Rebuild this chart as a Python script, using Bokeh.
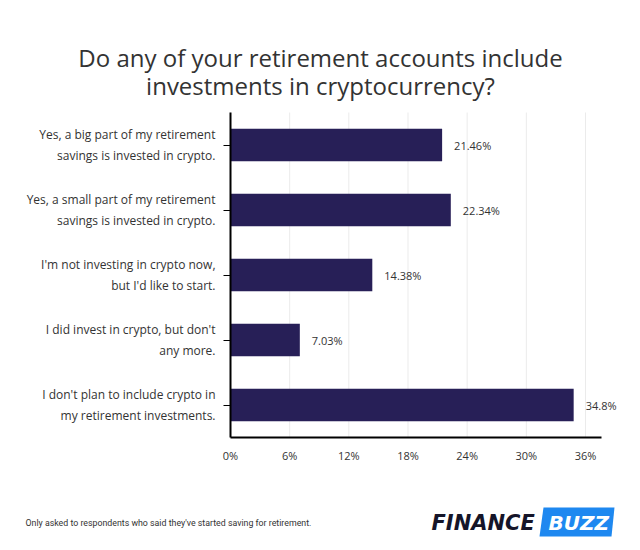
from bokeh.plotting import figure
from bokeh.models import Range1d, FixedTicker, CustomJSTickFormatter, ColumnDataSource, LabelSet, Label, PolyAnnotation
from bokeh.core.properties import value
from bokeh.embed import file_html
from bokeh.resources import INLINE

categories = [
    "Yes, a big part of my retirement\nsavings is invested in crypto.",
    "Yes, a small part of my retirement\nsavings is invested in crypto.",
    "I'm not investing in crypto now,\nbut I'd like to start.",
    "I did invest in crypto, but don't\nany more.",
    "I don't plan to include crypto in\nmy retirement investments.",
]
values = [21.46, 22.34, 14.38, 7.03, 34.8]
value_labels = ["21.46%", "22.34%", "14.38%", "7.03%", "34.8%"]
x_ticks = [0, 6, 12, 18, 24, 30, 36]
title_lines = ["Do any of your retirement accounts include", "investments in cryptocurrency?"]
footnote = "Only asked to respondents who said they've started saving for retirement."

W, H = 632, 542
TEXT = "#333333"
n = len(categories)
ypos = [n - i - 0.5 for i in range(n)]

# layout geometry (pixels): value 0 at x=230, category band 65px, bars' bottom edge at y=437
PX_PER_UNIT = 355 / 36.0
X0, Y0, BAND = 230, 437, 65.0

p = figure(width=W, height=H, output_backend="svg", toolbar_location=None,
           x_range=Range1d(-X0 / PX_PER_UNIT, (W - X0) / PX_PER_UNIT),
           y_range=Range1d(-(H - Y0) / BAND, Y0 / BAND),
           min_border=0)
p.outline_line_color = None
p.grid.visible = False

# light vertical grid lines within the bar area
p.segment(x0=x_ticks, x1=x_ticks, y0=[0] * len(x_ticks), y1=[n] * len(x_ticks),
          line_color="#ebebeb", line_width=1)

src = ColumnDataSource(dict(y=ypos, val=values, lab=value_labels))
p.hbar(y="y", right="val", left=0, height=0.5, source=src, color="#271f57", line_color=None)
p.add_layout(LabelSet(x="val", y="y", text="lab", source=src, x_offset=12,
                      text_font=value("Open Sans"), text_font_size="11px", text_color=TEXT,
                      text_baseline="middle"))

xa = p.xaxis[0]
xa.fixed_location = 0
xa.bounds = (0, 37.6)
xa.ticker = FixedTicker(ticks=x_ticks)
xa.formatter = CustomJSTickFormatter(code="return tick + '%';")
xa.axis_line_width = 2
xa.axis_line_color = "black"
xa.major_tick_line_color = None
xa.minor_tick_line_color = None
xa.major_label_text_font = "Open Sans"
xa.major_label_text_font_size = "11px"
xa.major_label_text_color = TEXT
xa.major_label_standoff = 4

ya = p.yaxis[0]
ya.fixed_location = 0
ya.bounds = (0, n)
ya.ticker = FixedTicker(ticks=ypos)
ya.major_label_overrides = {y: c for y, c in zip(ypos, categories)}
ya.axis_line_width = 2
ya.axis_line_color = "black"
ya.major_tick_line_color = "black"
ya.minor_tick_line_color = None
ya.major_tick_out = 7
ya.major_tick_in = 0
ya.major_label_text_font = "Open Sans"
ya.major_label_text_font_size = "12px"
ya.major_label_text_color = TEXT
ya.major_label_standoff = 8

def lab(text, X, Y, **kw):
    p.add_layout(Label(x=X, y=H - Y, x_units="screen", y_units="screen",
                       text=text, text_baseline="middle", **kw))

lab(title_lines[0], 320, 57, text_font="Open Sans", text_font_size="24px", text_color=TEXT, text_align="center")
lab(title_lines[1], 320, 85, text_font="Open Sans", text_font_size="24px", text_color=TEXT, text_align="center")
lab(footnote, 25, 522, text_font="Roboto", text_font_size="8.8px", text_color=TEXT)

px = [543, 614, 611, 539]
py = [507, 507, 536, 536]
p.add_layout(PolyAnnotation(xs=px, ys=[H - y for y in py], xs_units="screen", ys_units="screen",
                            fill_color="#1e88f0", fill_alpha=1, line_color=None))
lab("FINANCE", 431, 522, text_font="DejaVu Sans", text_font_size="21px", text_font_style="bold italic", text_color="#151529")
lab("BUZZ", 548, 522, text_font="DejaVu Sans", text_font_size="20px", text_font_style="bold italic", text_color="white")

open("out.html", "w").write(file_html(p, INLINE))
